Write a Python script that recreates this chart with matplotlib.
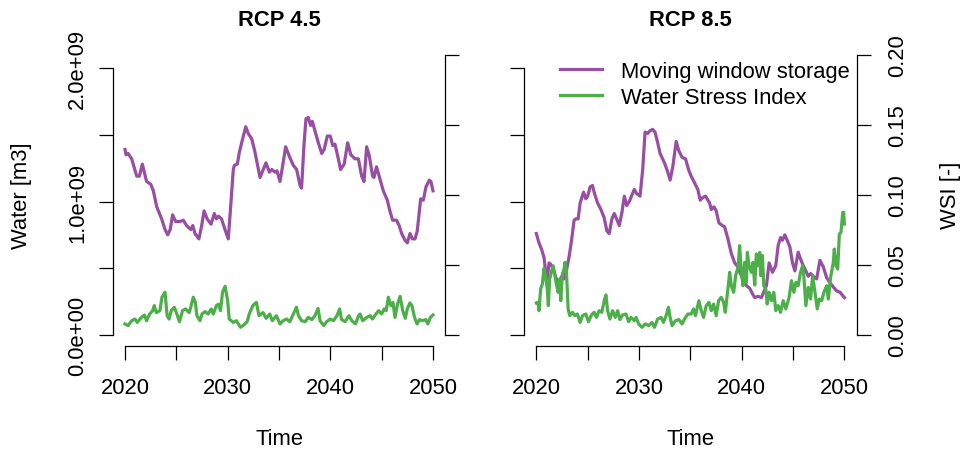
import matplotlib
matplotlib.use("Agg")
import matplotlib.pyplot as plt

plt.rcParams['font.family'] = ['Liberation Sans', 'DejaVu Sans']
FS = 15.8
PURPLE = '#984EA3'
GREEN = '#4DAF4A'

# ---------------- data ----------------
panel_titles = ['RCP 4.5', 'RCP 8.5']
legend_labels = ['Moving window storage', 'Water Stress Index']
x_ticks = [2020, 2025, 2030, 2035, 2040, 2045, 2050]
x_tick_labels = ['2020', '', '2030', '', '2040', '', '2050']
water_ticks = [0.0, 0.5e9, 1.0e9, 1.5e9, 2.0e9]
water_tick_labels = ['0.0e+00', '', '1.0e+09', '', '2.0e+09']
wsi_ticks = [0.0, 0.05, 0.10, 0.15, 0.20]
wsi_tick_labels = ['0.00', '0.05', '0.10', '0.15', '0.20']

# RCP 4.5 moving window storage (1e9 m3)
t45_storage = [2020.0, 2020.1, 2020.3, 2020.65, 2021.14, 2021.4, 2021.69, 2022.1, 2022.5, 2022.76,
               2023.09, 2023.57, 2023.9, 2024.16, 2024.4, 2024.64, 2024.93, 2025.36, 2025.68, 2026.0,
               2026.4, 2026.6, 2026.82, 2027.2, 2027.47, 2027.7, 2028.0, 2028.38, 2028.7, 2028.9,
               2029.1, 2029.4, 2029.74, 2030.06, 2030.3, 2030.55, 2030.65, 2030.94, 2031.14, 2031.46,
               2031.76, 2032.0, 2032.34, 2032.66, 2033.15, 2033.47, 2033.73, 2034.06, 2034.3, 2034.6,
               2034.8, 2035.1, 2035.36, 2035.65, 2036.0, 2036.4, 2036.72, 2037.05, 2037.2, 2037.43,
               2037.63, 2037.85, 2038.08, 2038.25, 2038.5, 2038.83, 2039.16, 2039.4, 2039.7, 2040.0,
               2040.23, 2040.45, 2040.78, 2041.0, 2041.35, 2041.69, 2042.0, 2042.4, 2042.73, 2043.05,
               2043.28, 2043.54, 2043.8, 2044.12, 2044.25, 2044.5, 2044.83, 2045.16, 2045.55, 2045.8,
               2046.07, 2046.45, 2046.7, 2046.95, 2047.27, 2047.5, 2047.76, 2048.0, 2048.25, 2048.47,
               2048.8, 2049.06, 2049.32, 2049.64, 2049.8, 2050.0]
rcp45_storage = [1.39, 1.35, 1.36, 1.32, 1.19, 1.19, 1.28, 1.15, 1.13, 1.08,
                 0.96, 0.87, 0.79, 0.75, 0.79, 0.90, 0.85, 0.85, 0.86, 0.82,
                 0.79, 0.82, 0.76, 0.72, 0.82, 0.93, 0.87, 0.83, 0.91, 0.87,
                 0.89, 0.87, 0.79, 0.72, 0.97, 1.24, 1.27, 1.28, 1.37, 1.47,
                 1.56, 1.51, 1.47, 1.37, 1.18, 1.24, 1.29, 1.22, 1.24, 1.22,
                 1.23, 1.15, 1.27, 1.41, 1.34, 1.27, 1.24, 1.12, 1.10, 1.42,
                 1.62, 1.63, 1.57, 1.60, 1.53, 1.44, 1.36, 1.39, 1.49, 1.49,
                 1.42, 1.43, 1.32, 1.24, 1.28, 1.44, 1.35, 1.32, 1.32, 1.19,
                 1.15, 1.41, 1.34, 1.19, 1.18, 1.26, 1.17, 1.08, 1.01, 0.93,
                 0.86, 0.86, 0.82, 0.76, 0.71, 0.69, 0.76, 0.72, 0.72, 0.78,
                 1.02, 1.01, 1.11, 1.16, 1.15, 1.08]

# RCP 4.5 water stress index
t45_wsi = [2020.0, 2020.3, 2020.65, 2020.97, 2021.2, 2021.6, 2021.9, 2022.1, 2022.4, 2022.7,
           2022.85, 2023.05, 2023.4, 2023.6, 2023.9, 2024.1, 2024.3, 2024.5, 2024.8, 2025.05,
           2025.3, 2025.6, 2025.9, 2026.25, 2026.4, 2026.65, 2026.85, 2027.0, 2027.3, 2027.5,
           2027.8, 2028.1, 2028.4, 2028.6, 2028.9, 2029.1, 2029.3, 2029.5, 2029.75, 2030.0,
           2030.15, 2030.55, 2030.85, 2031.25, 2031.55, 2031.9, 2032.1, 2032.45, 2032.8, 2033.05,
           2033.45, 2033.75, 2034.1, 2034.35, 2034.75, 2035.1, 2035.4, 2035.75, 2036.05, 2036.4,
           2036.7, 2036.9, 2037.2, 2037.55, 2037.85, 2038.2, 2038.5, 2038.8, 2039.0, 2039.35,
           2039.65, 2040.0, 2040.3, 2040.65, 2040.9, 2041.1, 2041.45, 2041.8, 2042.1, 2042.45,
           2042.75, 2042.9, 2043.15, 2043.55, 2043.9, 2044.1, 2044.45, 2044.7, 2045.0, 2045.25,
           2045.45, 2045.65, 2045.9, 2046.1, 2046.3, 2046.55, 2046.8, 2047.05, 2047.3, 2047.5,
           2047.75, 2047.95, 2048.2, 2048.45, 2048.7, 2048.95, 2049.3, 2049.5, 2049.75, 2050.0]
rcp45_wsi = [0.0079, 0.0067, 0.0102, 0.0114, 0.009, 0.0126, 0.0143, 0.0102, 0.015, 0.0174,
             0.021, 0.016, 0.0174, 0.027, 0.0305, 0.0138, 0.0114, 0.0174, 0.0198, 0.015,
             0.0095, 0.0174, 0.0186, 0.016, 0.0198, 0.027, 0.0233, 0.0138, 0.0102, 0.015,
             0.0167, 0.015, 0.0186, 0.015, 0.021, 0.022, 0.0174, 0.0305, 0.0348, 0.0245,
             0.0114, 0.009, 0.0102, 0.0055, 0.007, 0.0095, 0.015, 0.021, 0.0233, 0.0138,
             0.016, 0.0119, 0.015, 0.0102, 0.0138, 0.0079, 0.0102, 0.0114, 0.0095, 0.015,
             0.0198, 0.0138, 0.0102, 0.0095, 0.0126, 0.011, 0.0138, 0.019, 0.0102, 0.0067,
             0.0095, 0.0114, 0.0102, 0.0138, 0.0186, 0.011, 0.0095, 0.0138, 0.0102, 0.0079,
             0.0138, 0.015, 0.0102, 0.0126, 0.0138, 0.0114, 0.015, 0.0174, 0.015, 0.0186,
             0.0174, 0.027, 0.021, 0.0233, 0.0126, 0.0222, 0.0276, 0.0174, 0.0119, 0.0186,
             0.0229, 0.021, 0.0126, 0.0079, 0.011, 0.0102, 0.011, 0.0079, 0.0126, 0.0143]

# RCP 8.5 moving window storage (1e9 m3)
t85_storage = [2020.0, 2020.26, 2020.52, 2020.75, 2020.9, 2021.07, 2021.24, 2021.4, 2021.63, 2021.9,
               2022.2, 2022.48, 2022.7, 2022.93, 2023.2, 2023.45, 2023.68, 2023.84, 2024.07, 2024.27,
               2024.6, 2024.82, 2025.0, 2025.24, 2025.47, 2025.63, 2025.96, 2026.29, 2026.6, 2026.87,
               2027.1, 2027.36, 2027.59, 2027.82, 2028.08, 2028.34, 2028.57, 2028.8, 2029.06, 2029.32,
               2029.54, 2029.77, 2030.1, 2030.36, 2030.59, 2030.85, 2031.07, 2031.33, 2031.56, 2031.82,
               2032.05, 2032.48, 2032.8, 2033.03, 2033.29, 2033.62, 2033.88, 2034.2, 2034.53, 2034.82,
               2035.08, 2035.41, 2035.73, 2035.96, 2036.22, 2036.48, 2036.64, 2036.87, 2037.04, 2037.3,
               2037.52, 2037.78, 2038.11, 2038.34, 2038.66, 2038.99, 2039.32, 2039.64, 2039.87, 2040.2,
               2040.46, 2040.78, 2041.04, 2041.27, 2041.6, 2041.92, 2042.25, 2042.41, 2042.67, 2043.0,
               2043.32, 2043.55, 2043.78, 2043.97, 2044.2, 2044.43, 2044.69, 2044.95, 2045.18, 2045.5,
               2045.73, 2045.99, 2046.25, 2046.48, 2046.71, 2046.97, 2047.3, 2047.62, 2047.95, 2048.27,
               2048.6, 2048.92, 2049.25, 2049.58, 2050.0]
rcp85_storage = [0.76, 0.69, 0.64, 0.58, 0.48, 0.42, 0.54, 0.53, 0.50, 0.43,
                 0.39, 0.44, 0.42, 0.48, 0.59, 0.72, 0.86, 0.87, 0.87, 0.99,
                 1.07, 1.02, 1.04, 1.11, 1.12, 1.07, 0.99, 0.94, 0.88, 0.78,
                 0.76, 0.87, 0.91, 0.87, 0.82, 0.92, 1.04, 0.97, 1.00, 1.05,
                 1.09, 1.06, 1.04, 1.24, 1.52, 1.51, 1.53, 1.54, 1.52, 1.44,
                 1.36, 1.29, 1.22, 1.16, 1.26, 1.45, 1.38, 1.33, 1.32, 1.24,
                 1.19, 1.14, 1.09, 1.01, 1.03, 1.04, 1.02, 0.99, 0.94, 0.96,
                 0.93, 0.84, 0.82, 0.81, 0.72, 0.61, 0.54, 0.51, 0.46, 0.41,
                 0.37, 0.35, 0.31, 0.28, 0.29, 0.28, 0.34, 0.37, 0.54, 0.47,
                 0.52, 0.67, 0.73, 0.71, 0.75, 0.71, 0.66, 0.54, 0.48, 0.62,
                 0.57, 0.52, 0.48, 0.44, 0.46, 0.44, 0.42, 0.56, 0.51, 0.43,
                 0.39, 0.36, 0.33, 0.32, 0.28]

# RCP 8.5 water stress index
t85_wsi = [2020.0, 2020.16, 2020.26, 2020.42, 2020.59, 2020.75, 2020.91, 2021.07, 2021.17, 2021.3,
           2021.5, 2021.63, 2021.82, 2021.95, 2022.12, 2022.28, 2022.38, 2022.54, 2022.7, 2022.8,
           2022.93, 2023.1, 2023.26, 2023.52, 2023.75, 2024.0, 2024.27, 2024.5, 2024.82, 2025.08,
           2025.37, 2025.63, 2025.86, 2026.12, 2026.38, 2026.61, 2026.78, 2026.94, 2027.17, 2027.43,
           2027.69, 2027.92, 2028.14, 2028.4, 2028.73, 2028.99, 2029.22, 2029.54, 2029.71, 2029.97,
           2030.29, 2030.62, 2030.94, 2031.27, 2031.5, 2031.82, 2032.15, 2032.38, 2032.64, 2032.87,
           2033.03, 2033.22, 2033.55, 2033.88, 2034.2, 2034.43, 2034.76, 2035.08, 2035.31, 2035.5,
           2035.83, 2036.06, 2036.29, 2036.55, 2036.81, 2037.04, 2037.26, 2037.52, 2037.75, 2038.01,
           2038.24, 2038.4, 2038.66, 2038.83, 2038.99, 2039.22, 2039.41, 2039.64, 2039.8, 2039.97,
           2040.13, 2040.29, 2040.46, 2040.55, 2040.72, 2040.94, 2041.1, 2041.27, 2041.43, 2041.6,
           2041.76, 2041.86, 2042.02, 2042.15, 2042.35, 2042.48, 2042.67, 2042.9, 2043.13, 2043.32,
           2043.55, 2043.78, 2044.04, 2044.3, 2044.62, 2044.85, 2045.08, 2045.28, 2045.5, 2045.73,
           2045.93, 2046.06, 2046.25, 2046.48, 2046.71, 2046.91, 2047.13, 2047.36, 2047.56, 2047.79,
           2048.01, 2048.27, 2048.44, 2048.66, 2048.92, 2049.02, 2049.19, 2049.35, 2049.51, 2049.67,
           2049.84, 2049.93, 2050.0]
rcp85_wsi = [0.0229, 0.0233, 0.0174, 0.0329, 0.0364, 0.0476, 0.0412, 0.0329, 0.021, 0.04,
             0.046, 0.0495, 0.0424, 0.0364, 0.0305, 0.04, 0.0245, 0.0436, 0.0471, 0.0519,
             0.046, 0.0186, 0.0138, 0.0162, 0.0138, 0.015, 0.009, 0.0138, 0.015, 0.0095,
             0.0143, 0.0162, 0.0126, 0.0174, 0.0162, 0.0245, 0.0286, 0.0174, 0.0114, 0.0174,
             0.0126, 0.0174, 0.011, 0.0143, 0.015, 0.0095, 0.0126, 0.0102, 0.0126, 0.0079,
             0.0055, 0.0079, 0.0067, 0.009, 0.0055, 0.0114, 0.0126, 0.009, 0.0138, 0.0198,
             0.0126, 0.0067, 0.0102, 0.011, 0.0079, 0.0114, 0.015, 0.015, 0.0186, 0.0138,
             0.0245, 0.0174, 0.0126, 0.021, 0.0233, 0.0174, 0.0221, 0.0138, 0.0245, 0.0269,
             0.0233, 0.0162, 0.0329, 0.0448, 0.0352, 0.0305, 0.0424, 0.0483, 0.0638, 0.0448,
             0.0352, 0.0519, 0.0376, 0.059, 0.0495, 0.0448, 0.0519, 0.0357, 0.0579, 0.0495,
             0.059, 0.0424, 0.0567, 0.0352, 0.0329, 0.0221, 0.0305, 0.0245, 0.0305, 0.0174,
             0.021, 0.0162, 0.0245, 0.0186, 0.0269, 0.0388, 0.0305, 0.0376, 0.0352, 0.0448,
             0.0495, 0.0412, 0.021, 0.034, 0.0257, 0.0424, 0.0305, 0.0186, 0.0257, 0.0245,
             0.0305, 0.0352, 0.0257, 0.0412, 0.0519, 0.0614, 0.0495, 0.0471, 0.0721, 0.0733,
             0.0876, 0.0876, 0.0793]

# ---------------- layout ----------------
W, H = 962, 452
fig = plt.figure(figsize=(W / 100, H / 100), dpi=100)


def px_axes(x0, x1, y0, y1):
    return fig.add_axes([x0 / W, 1 - y1 / H, (x1 - x0) / W, (y1 - y0) / H])


XLIM = (2018.83, 2051.2)
WATER_LIM = (-0.0824e9, 2.105e9)
WSI_LIM = (-0.00786, 0.2007)
TICK_LEN = 10
LW_AX = 0.9

panels = [
    dict(x0=113, x1=445.3, title=panel_titles[0], ts=t45_storage, s=rcp45_storage,
         tw=t45_wsi, w=rcp45_wsi, left_labels=True, right_labels=False, legend=False),
    dict(x0=524.3, x1=856.7, title=panel_titles[1], ts=t85_storage, s=rcp85_storage,
         tw=t85_wsi, w=rcp85_wsi, left_labels=False, right_labels=True, legend=True),
]

for p in panels:
    ax = px_axes(p['x0'], p['x1'], 55, 347)
    ax.set_facecolor('none')
    l1, = ax.plot(p['ts'], [v * 1e9 for v in p['s']], color=PURPLE, lw=2.3,
                  solid_joinstyle='round', label=legend_labels[0])
    ax.set_xlim(*XLIM)
    ax.set_ylim(*WATER_LIM)
    for side in ['top', 'right']:
        ax.spines[side].set_visible(False)
    ax.spines['left'].set_bounds(0, 2e9)
    ax.spines['bottom'].set_bounds(2020, 2050)
    for side in ['left', 'bottom']:
        ax.spines[side].set_linewidth(LW_AX)
        ax.spines[side].set_color('black')
    ax.set_xticks(x_ticks, x_tick_labels)
    if p['left_labels']:
        ax.set_yticks(water_ticks, water_tick_labels, rotation=90, va='center')
    else:
        ax.set_yticks(water_ticks, ['' for _ in water_ticks])
    ax.tick_params(axis='both', length=TICK_LEN, width=LW_AX, color='black',
                   labelsize=FS, direction='out')
    ax.tick_params(axis='x', pad=12)
    ax.tick_params(axis='y', pad=8)

    ax2 = ax.twinx()
    l2, = ax2.plot(p['tw'], p['w'], color=GREEN, lw=2.3, solid_joinstyle='round',
                   label=legend_labels[1])
    ax2.set_xlim(*XLIM)
    ax2.set_ylim(*WSI_LIM)
    for side in ['top', 'left', 'bottom']:
        ax2.spines[side].set_visible(False)
    ax2.spines['right'].set_bounds(0, 0.2)
    ax2.spines['right'].set_linewidth(LW_AX)
    ax2.spines['right'].set_color('black')
    if p['right_labels']:
        ax2.set_yticks(wsi_ticks, wsi_tick_labels, rotation=90, va='center')
    else:
        ax2.set_yticks(wsi_ticks, ['' for _ in wsi_ticks])
    ax2.tick_params(axis='y', length=TICK_LEN, width=LW_AX, color='black',
                    labelsize=FS, direction='out', pad=12)

    cx = (p['x0'] + p['x1']) / 2
    fig.text(cx / W, 1 - 20 / H, p['title'], ha='center', va='center',
             fontsize=FS, fontweight='bold')
    fig.text(cx / W, 1 - 440 / H, 'Time', ha='center', va='center', fontsize=FS)

    if p['legend']:
        ax2.legend(handles=[l1, l2], labels=legend_labels, loc='upper left',
                   bbox_to_anchor=(560 / W, 1 - 62 / H), bbox_transform=fig.transFigure,
                   frameon=False, fontsize=FS, handlelength=1.9, handletextpad=0.86,
                   labelspacing=0.22, borderpad=0, borderaxespad=0)

fig.text(22 / W, 1 - 196 / H, 'Water [m3]', rotation=90, ha='center', va='center', fontsize=FS)
fig.text(951 / W, 1 - 195 / H, 'WSI [-]', rotation=90, ha='center', va='center', fontsize=FS)

fig.savefig('out.png', dpi=100, facecolor='white')
